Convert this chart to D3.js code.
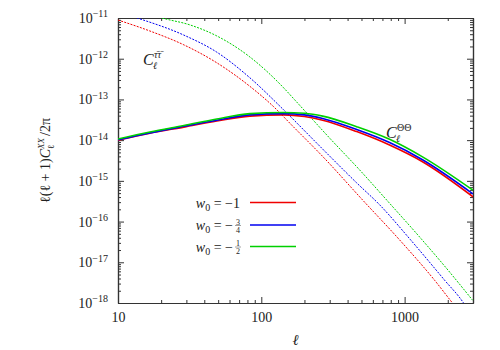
<!DOCTYPE html>
<html>
<head>
<meta charset="utf-8">
<script src="https://cdn.jsdelivr.net/npm/d3@7"></script>
<style>
	body { margin: 0; background: #fff; }
	.axis path, .axis line { stroke: #333; }
</style>
</head>
<body>
<svg id="viz" width="500" height="350"></svg>
<script>
// solid curves: C_l^{Theta Theta}
const ellSolid = [10, 16.7, 28.8, 48.9, 83.3, 143, 200, 268, 463, 785, 1333, 3000];
const ttRed   = [1.0e-14, 1.48e-14, 2.09e-14, 2.95e-14, 3.89e-14, 4.17e-14, 3.80e-14, 3.09e-14, 1.62e-14, 7.59e-15, 2.95e-15, 4.07e-16];
const ttBlue  = [1.02e-14, 1.51e-14, 2.19e-14, 3.09e-14, 4.17e-14, 4.47e-14, 4.17e-14, 3.39e-14, 1.82e-14, 8.71e-15, 3.31e-15, 4.79e-16];
const ttGreen = [1.07e-14, 1.58e-14, 2.29e-14, 3.31e-14, 4.47e-14, 4.79e-14, 4.57e-14, 3.89e-14, 2.14e-14, 1.05e-14, 3.89e-15, 5.89e-16];

// dashed curves: C_l^{tau tau}
const ellRedDash   = [10, 16.7, 28.8, 48.9, 83.3, 122, 163, 268, 509, 922, 1618, 2158, 2400];
const tauRed       = [8.91e-12, 4.79e-12, 2.19e-12, 7.94e-13, 2.09e-13, 6.61e-14, 2.34e-14, 3.98e-15, 3.39e-16, 3.55e-17, 3.63e-18, 1.0e-18, 6.3e-19];
const ellBlueDash  = [10, 13.9, 28.8, 48.9, 83.3, 143.5, 268, 463, 670, 1101, 1901, 2577, 2800];
const tauBlue      = [1.41e-11, 9.77e-12, 3.80e-12, 1.45e-12, 3.39e-13, 5.50e-14, 6.03e-15, 8.91e-16, 2.57e-16, 3.55e-17, 3.63e-18, 1.0e-18, 6.3e-19];
const ellGreenDash = [15, 20.3, 31.8, 48.9, 83.3, 143.5, 171, 300, 485, 785, 1273, 2061, 2980];
const tauGreen     = [1.41e-11, 1.0e-11, 6.76e-12, 3.63e-12, 1.10e-12, 1.91e-13, 9.77e-14, 1.12e-14, 1.86e-15, 2.82e-16, 4.17e-17, 5.75e-18, 1.17e-18];

const colors = ["#f00000", "#0000f0", "#00d000"];
const legendValues = ["1", "3/4", "1/2"];

const xTicks = [10, 100, 1000];
const yExps = [-18, -17, -16, -15, -14, -13, -12, -11];

const serif = "'Liberation Serif', serif";

let svg = d3.select("svg#viz");

const plotLeft = 118, plotRight = 473, plotTop = 18, plotBottom = 303;

let xScale = d3.scaleLog().domain([10, 3000]).range([plotLeft, plotRight]);
let yScale = d3.scaleLog().domain([1e-18, 1e-11]).range([plotBottom, plotTop]);

// minor ticks 2..9 in each decade
let xMinor = [];
[10, 100, 1000].forEach(function(d) {
	for (let k = 2; k <= 9; k++) if (d * k <= 3000) xMinor.push(d * k);
});
let yMinor = [];
yExps.slice(0, -1).forEach(function(e) {
	for (let k = 2; k <= 9; k++) yMinor.push(k * Math.pow(10, e));
});
let yMajor = yExps.map(e => Math.pow(10, e));

// clip path for the curves
svg.append("clipPath").attr("id", "clip")
	.append("rect")
	.attr("x", plotLeft).attr("y", plotTop)
	.attr("width", plotRight - plotLeft).attr("height", plotBottom - plotTop);

// axes (ticks point inward, mirrored on all four sides)
function addAxis(axis, transform) {
	let g = svg.append("g").attr("class", "axis").attr("transform", transform).call(axis);
	g.attr("font-family", null);
	g.select(".domain").attr("stroke-width", 1.2);
	return g;
}

let xAxis = addAxis(d3.axisBottom(xScale).tickValues(xTicks).tickSizeInner(-6).tickSizeOuter(0).tickPadding(9).tickFormat(d3.format("d")),
	`translate(0,${plotBottom})`);
xAxis.selectAll("text").attr("font-size", 14).style("font-family", serif).attr("fill", "#222");
addAxis(d3.axisBottom(xScale).tickValues(xMinor).tickSizeInner(-3).tickSizeOuter(0).tickFormat(""), `translate(0,${plotBottom})`);
addAxis(d3.axisTop(xScale).tickValues(xTicks).tickSizeInner(-6).tickSizeOuter(0).tickFormat(""), `translate(0,${plotTop})`);
addAxis(d3.axisTop(xScale).tickValues(xMinor).tickSizeInner(-3).tickSizeOuter(0).tickFormat(""), `translate(0,${plotTop})`);

let yAxis = addAxis(d3.axisLeft(yScale).tickValues(yMajor).tickSizeInner(-6).tickSizeOuter(0).tickPadding(10).tickFormat(""),
	`translate(${plotLeft},0)`);
addAxis(d3.axisLeft(yScale).tickValues(yMinor).tickSizeInner(-3).tickSizeOuter(0).tickFormat(""), `translate(${plotLeft},0)`);
addAxis(d3.axisRight(yScale).tickValues(yMajor).tickSizeInner(-6).tickSizeOuter(0).tickFormat(""), `translate(${plotRight},0)`);
addAxis(d3.axisRight(yScale).tickValues(yMinor).tickSizeInner(-3).tickSizeOuter(0).tickFormat(""), `translate(${plotRight},0)`);

// y tick labels as 10^{n}
yAxis.selectAll(".tick text").each(function(d) {
	let t = d3.select(this).attr("font-size", 14).style("font-family", serif).attr("fill", "#222");
	t.append("tspan").text("10");
	t.append("tspan").attr("font-size", 10).attr("dy", "-0.55em")
		.text("\u2212" + Math.round(-Math.log10(d)));
});

// curves
let line = d3.line().x(d => xScale(d[0])).y(d => yScale(d[1])).curve(d3.curveMonotoneX);
let curves = svg.append("g").attr("clip-path", "url(#clip)");

let dashed = [[ellRedDash, tauRed], [ellBlueDash, tauBlue], [ellGreenDash, tauGreen]];
dashed.forEach(function(s, i) {
	curves.append("path")
		.datum(s[0].map((l, j) => [l, s[1][j]]))
		.attr("fill", "none").attr("stroke", colors[i]).attr("stroke-width", 1)
		.attr("stroke-dasharray", "2,1.3")
		.attr("d", line);
});

[ttRed, ttBlue, ttGreen].forEach(function(s, i) {
	curves.append("path")
		.datum(ellSolid.map((l, j) => [l, s[j]]))
		.attr("fill", "none").attr("stroke", colors[i]).attr("stroke-width", 1.6)
		.attr("d", line);
});

// all other text in serif
let labels = svg.append("g").style("font-family", serif).attr("fill", "#222");

// curve labels: C_l with stacked superscript
function cLabel(x, y, sup, supStyle) {
	labels.append("text").attr("x", x).attr("y", y).attr("font-size", 16).attr("font-style", "italic").text("C");
	labels.append("text").attr("x", x + 11).attr("y", y - 7).attr("font-size", 10).attr("font-style", supStyle).text(sup);
	labels.append("text").attr("x", x + 10).attr("y", y + 4).attr("font-size", 10).attr("font-style", "italic").text("\u2113");
}
cLabel(143, 65, "\u03c4\u0304\u03c4\u0304", "italic");
cLabel(386, 138, "\u0398\u0398", "normal");

// axis titles
labels.append("text")
	.attr("x", (plotLeft + plotRight) / 2).attr("y", 345)
	.attr("text-anchor", "middle").attr("font-size", 15).attr("font-style", "italic")
	.text("\u2113");

let yTitle = labels.append("text")
	.attr("transform", `translate(50,${(plotTop + plotBottom) / 2}) rotate(-90)`)
	.attr("text-anchor", "middle").attr("font-size", 14);
yTitle.append("tspan").text("\u2113(\u2113 + 1)");
yTitle.append("tspan").attr("font-style", "italic").text("C");
let supSpan = yTitle.append("tspan").attr("font-size", 9).attr("dy", -6).attr("font-style", "italic").text("XX");
let supW = supSpan.node().getComputedTextLength();
let subSpan = yTitle.append("tspan").attr("font-size", 9).attr("dx", -supW).attr("dy", 10).text("\u2113");
let subW = subSpan.node().getComputedTextLength();
yTitle.append("tspan").attr("dx", supW - subW + 2).attr("dy", -4).text("/2\u03c0");

// legend
let legendY = [202.5, 225, 246.5];
legendValues.forEach(function(v, i) {
	let y = legendY[i];
	let frac = v.split("/");
	let t = labels.append("text").attr("text-anchor", "end").attr("font-size", 14).attr("y", y + 5);
	t.append("tspan").attr("font-style", "italic").text("w");
	t.append("tspan").attr("font-size", 10).attr("dy", 3).text("0");
	t.append("tspan").attr("dy", -3).text(" = \u2212" + (frac.length == 1 ? frac[0] : ""));
	if (frac.length == 1) {
		t.attr("x", 240);
	} else {
		t.attr("x", 233);
		labels.append("text").attr("x", 238).attr("y", y - 0.5).attr("text-anchor", "middle").attr("font-size", 8).text(frac[0]);
		svg.append("line").attr("x1", 235).attr("x2", 241).attr("y1", y + 0.5).attr("y2", y + 0.5)
			.attr("stroke", "#444").attr("stroke-width", 0.5);
		labels.append("text").attr("x", 238).attr("y", y + 7.5).attr("text-anchor", "middle").attr("font-size", 8).text(frac[1]);
	}
	svg.append("line")
		.attr("x1", 250).attr("x2", 296).attr("y1", y).attr("y2", y)
		.attr("stroke", colors[i]).attr("stroke-width", 1.6);
});
</script>
</body>
</html>
